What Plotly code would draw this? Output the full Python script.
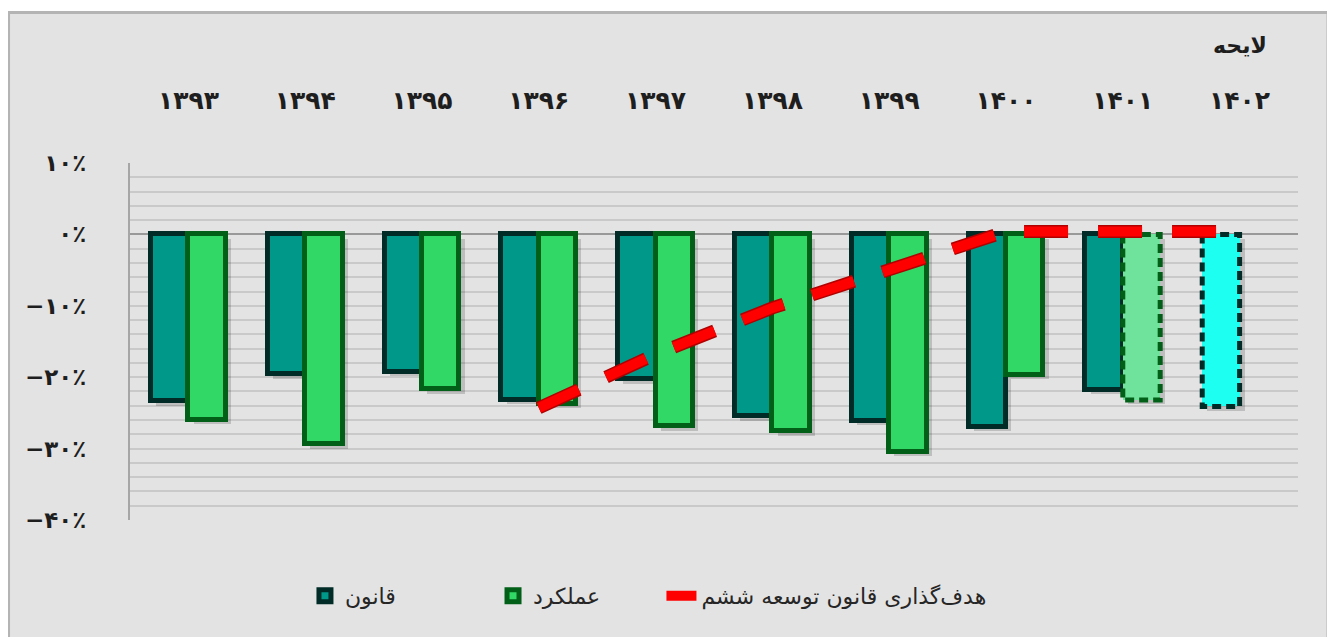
import plotly.graph_objects as go

# ---------------- data ----------------
years = ["۱۳۹۳", "۱۳۹۴", "۱۳۹۵", "۱۳۹۶", "۱۳۹۷", "۱۳۹۸", "۱۳۹۹", "۱۴۰۰", "۱۴۰۱", "۱۴۰۲"]
law = [-23.4, -19.6, -19.3, -23.2, -20.3, -25.5, -26.1, -27.0, -21.8, None]      # قانون
bill = [None, None, None, None, None, None, None, None, None, -24.1]              # لایحه ۱۴۰۲
perf = [-26.0, -29.4, -21.7, -23.7, -26.9, -27.6, -30.5, -19.7, None, None]      # عملکرد
perf_est = [None, None, None, None, None, None, None, None, -23.2, None]          # عملکرد (برآورد)
target = [None, None, None, -24.3, -16.8, -10.3, -4.8, 0.4, 0.4, 0.4]             # هدف‌گذاری
y_ticks = [10, 0, -10, -20, -30, -40]
y_labels = ["۱۰٪", "۰٪", "−۱۰٪", "−۲۰٪", "−۳۰٪", "−۴۰٪"]
names = {"law": "قانون", "perf": "عملکرد", "target": "هدف‌گذاری قانون توسعه ششم"}
bill_label = "لایحه"

# ---------------- styles ----------------
TEAL, TEAL_LINE = "#009889", "#012b27"
GREEN, GREEN_LINE = "#31d866", "#015f17"
GREEN_EST = "#6fe39b"
CYAN = "#1dfff0"
RED, RED_LINE = "#ff0000", "#b00000"
BW = 0.32  # bar width in category units
FONT = "DejaVu Sans"

xs = list(range(len(years)))
fig = go.Figure()

# soft shadows behind bars
def shadow(vals, off):
    fig.add_trace(go.Bar(
        x=xs, y=vals, base=[-0.6] * len(xs),
        width=BW, offset=off + 0.045, marker=dict(color="rgba(0,0,0,0.16)", line=dict(width=0)),
        showlegend=False, hoverinfo="skip"))

shadow(law, -BW)
shadow(bill, -BW)
shadow(perf, 0)
shadow(perf_est, 0)

fig.add_trace(go.Bar(
    x=xs, y=law, width=BW, offset=-BW, name=names["law"], legend="legend",
    marker=dict(color=TEAL, line=dict(color=TEAL_LINE, width=5))))
fig.add_trace(go.Bar(
    x=xs, y=perf, width=BW, offset=0, name=names["perf"], legend="legend2",
    marker=dict(color=GREEN, line=dict(color=GREEN_LINE, width=5))))

# dashed-border bars (estimate / bill)
fig.add_trace(go.Bar(x=xs, y=perf_est, width=BW, offset=0, showlegend=False,
                     marker=dict(color=GREEN_EST, line=dict(width=0))))
fig.add_trace(go.Bar(x=xs, y=bill, width=BW, offset=-BW, showlegend=False,
                     marker=dict(color=CYAN, line=dict(width=0))))

def dashed_outline(vals, off, color):
    for i, v in zip(xs, vals):
        if v is None:
            continue
        x0, x1 = i + off, i + off + BW
        fig.add_trace(go.Scatter(
            x=[x0, x0, x1, x1, x0], y=[0, v, v, 0, 0], mode="lines",
            line=dict(color=color, width=5, dash="9px,5px"),
            showlegend=False, hoverinfo="skip"))

dashed_outline(perf_est, 0, GREEN_LINE)
dashed_outline(bill, -BW, TEAL_LINE)

# target line (outline + red)
DASH = "44px,30px"
fig.add_trace(go.Scatter(x=xs, y=target, mode="lines", showlegend=False, hoverinfo="skip",
                         line=dict(color=RED_LINE, width=13, dash=DASH)))
fig.add_trace(go.Scatter(x=xs, y=target, mode="lines", name=names["target"], legend="legend3",
                         line=dict(color=RED, width=10, dash=DASH)))

# background frame (chart area box)
fig.add_shape(type="rect", xref="paper", yref="paper",
              x0=-0.104, x1=1.0257, y0=-0.40, y1=1.4216,
              fillcolor="#e3e3e3", line=dict(color="#b4b4b4", width=3), layer="below")

fig.add_annotation(x=9, y=1.3305, xref="x", yref="paper", yanchor="middle",
                   text="<b>" + bill_label + "</b>", showarrow=False,
                   font=dict(family=FONT, size=22, color="#1e1e1e"))

legend_style = dict(orientation="h", xanchor="left", y=-0.213, yanchor="middle",
                    font=dict(family=FONT, size=22, color="#262626"),
                    bgcolor="rgba(0,0,0,0)")

fig.update_layout(
    width=1327, height=629,
    margin=dict(l=122, r=37, t=155, b=117),
    paper_bgcolor="white", plot_bgcolor="rgba(0,0,0,0)",
    barmode="overlay", bargap=0,
    font=dict(family=FONT, color="#262626"),
    legend=dict(x=0.1498, **legend_style),
    legend2=dict(x=0.3108, **legend_style),
    legend3=dict(x=0.455, **legend_style),
)
fig.update_xaxes(
    range=[-0.5, 9.5], side="top", tickmode="array", tickvals=xs,
    ticktext=["<b>" + y + "</b>" for y in years],
    tickfont=dict(family=FONT, size=25, color="#1e1e1e"),
    showgrid=False, zeroline=False, showline=False, ticks="", ticklabelstandoff=48)
fig.update_yaxes(
    range=[-40, 10], tickmode="array", tickvals=y_ticks,
    ticktext=["<b>" + t + "</b>" for t in y_labels],
    tickfont=dict(family=FONT, size=23, color="#1e1e1e"),
    showgrid=True, gridcolor="#c9c9c9", gridwidth=2,
    minor=dict(dtick=2, showgrid=True, gridcolor="#c9c9c9", gridwidth=2),
    zeroline=True, zerolinecolor="#999999", zerolinewidth=2,
    showline=True, linecolor="#a6a6a6", linewidth=2, ticks="", ticklabelstandoff=37)

fig.write_html("out.html")
